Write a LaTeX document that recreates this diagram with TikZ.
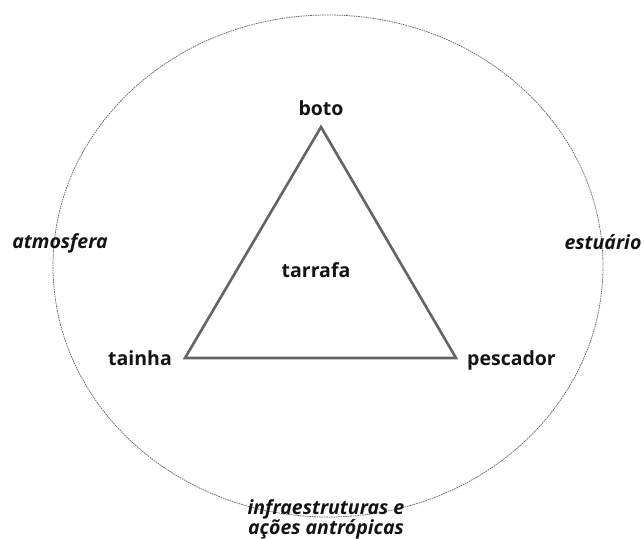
\documentclass[tikz,border=0pt]{standalone}
\usepackage{fontspec}
\setmainfont{Open Sans}
\usepackage{tikz}
\usetikzlibrary{positioning}
\definecolor{tri-gray}{HTML}{646464}
\definecolor{rim-gray}{HTML}{6A6A6A}
\definecolor{ink}{HTML}{141414}

\begin{document}
\begin{tikzpicture}[x=1pt, y=1pt,
    lbl/.style={inner sep=0pt, text=ink, font=\fontsize{19.5}{20}\selectfont\bfseries},
    outer/.style={lbl, font=\fontsize{19.5}{20}\selectfont\bfseries\itshape, align=center},
    tri/.style={draw=tri-gray, line width=2.6pt, line join=miter},
    rim/.style={draw=rim-gray, line width=0.75pt, dash pattern=on 1.6pt off 0.8pt}]
    \useasboundingbox (0,0) rectangle (644,538);
    \coordinate (mid) at (328,272);
    \coordinate (top) at (321,411);
    \coordinate (lft) at (185,180);
    \coordinate (rgt) at (456,180);
    \draw[rim] (mid) ellipse (275 and 251);
    \draw[tri] (top) -- (lft) -- (rgt) -- cycle;
    \node[lbl, above=11pt of top] (boto) {boto};
    \node[lbl, left=13pt of lft] (tainha) {tainha};
    \node[lbl, right=11pt of rgt, yshift=-2pt] (pescador) {pescador};
    \node[lbl] (tarrafa) at (316,268) {tarrafa};
    \node[outer] (atmosfera) at (60,295) {atmosfera};
    \node[outer] (estuario) at (603,296) {estuário};
    \node[outer] (infra) at (326,19) {infraestruturas e\\ações antrópicas};
\end{tikzpicture}
\end{document}
